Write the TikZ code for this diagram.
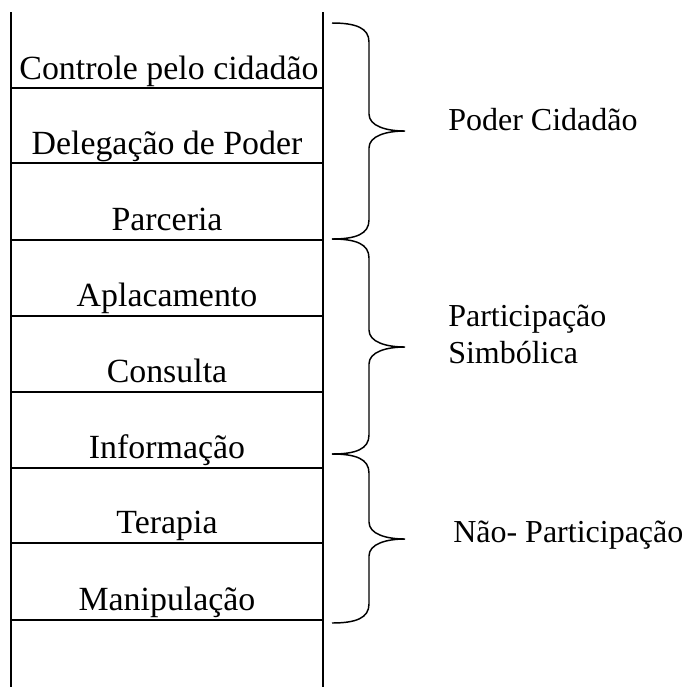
\documentclass[tikz,border=0pt]{standalone}
\usepackage{fontspec}
\setmainfont{Liberation Serif}
\usetikzlibrary{positioning}

% brace: top, middle, bottom (y in px)
\newcommand{\chave}[3]{\draw[chaveline] (332,#1) .. controls (356,#1) and (369,#1+5) .. (369,#1+19) -- (369,#2-17) .. controls (369,#2-5) and (386,#2) .. (405,#2) .. controls (386,#2) and (369,#2+5) .. (369,#2+17) -- (369,#3-19) .. controls (369,#3-5) and (356,#3) .. (332,#3);}

\begin{document}
\begin{tikzpicture}[x=0.75pt,y=-0.75pt]
	\tikzstyle{every node} = [font=\fontsize{24}{27.75}\selectfont, inner sep=0pt]
	\tikzstyle{degrau} = [anchor=base, font=\fontsize{25.4}{29}\selectfont]
	\tikzstyle{grupo} = [anchor=base west, align=left]
	\tikzstyle{haste} = [line width=1.5pt]
	\tikzstyle{chaveline} = [line width=1.1pt]
	\useasboundingbox (0,0) rectangle (684,687);

	\draw[haste] (11,12) -- (11,687); \draw[haste] (323,12) -- (323,687);
	\draw[haste] (11,88) -- (323,88); \draw[haste] (11,163) -- (323,163); \draw[haste] (11,240) -- (323,240); \draw[haste] (11,316) -- (323,316);
	\draw[haste] (11,392) -- (323,392); \draw[haste] (11,468) -- (323,468); \draw[haste] (11,543) -- (323,543); \draw[haste] (11,620) -- (323,620);

	\node[degrau] (controle) at (169,79) {Controle pelo cidadão}; \node[degrau] (delegacao) at (167,154) {Delegação de Poder}; \node[degrau] (parceria) at (167,230) {Parceria};
	\node[degrau] (aplacamento) at (167,306) {Aplacamento}; \node[degrau] (consulta) at (167,382) {Consulta}; \node[degrau] (informacao) at (167,458) {Informação};
	\node[degrau] (terapia) at (167,533) {Terapia}; \node[degrau] (manipulacao) at (167,610) {Manipulação};

	\chave{23}{131}{239} \chave{239}{347}{454} \chave{454}{539}{623}

	\node[grupo] (poder) at (448,130) {Poder Cidadão};
	\node[grupo] (simbolica) at (448,363) {Participação\\Simbólica};
	\node[grupo] (naopart) at (453,542) {Não- Participação};
\end{tikzpicture}
\end{document}
